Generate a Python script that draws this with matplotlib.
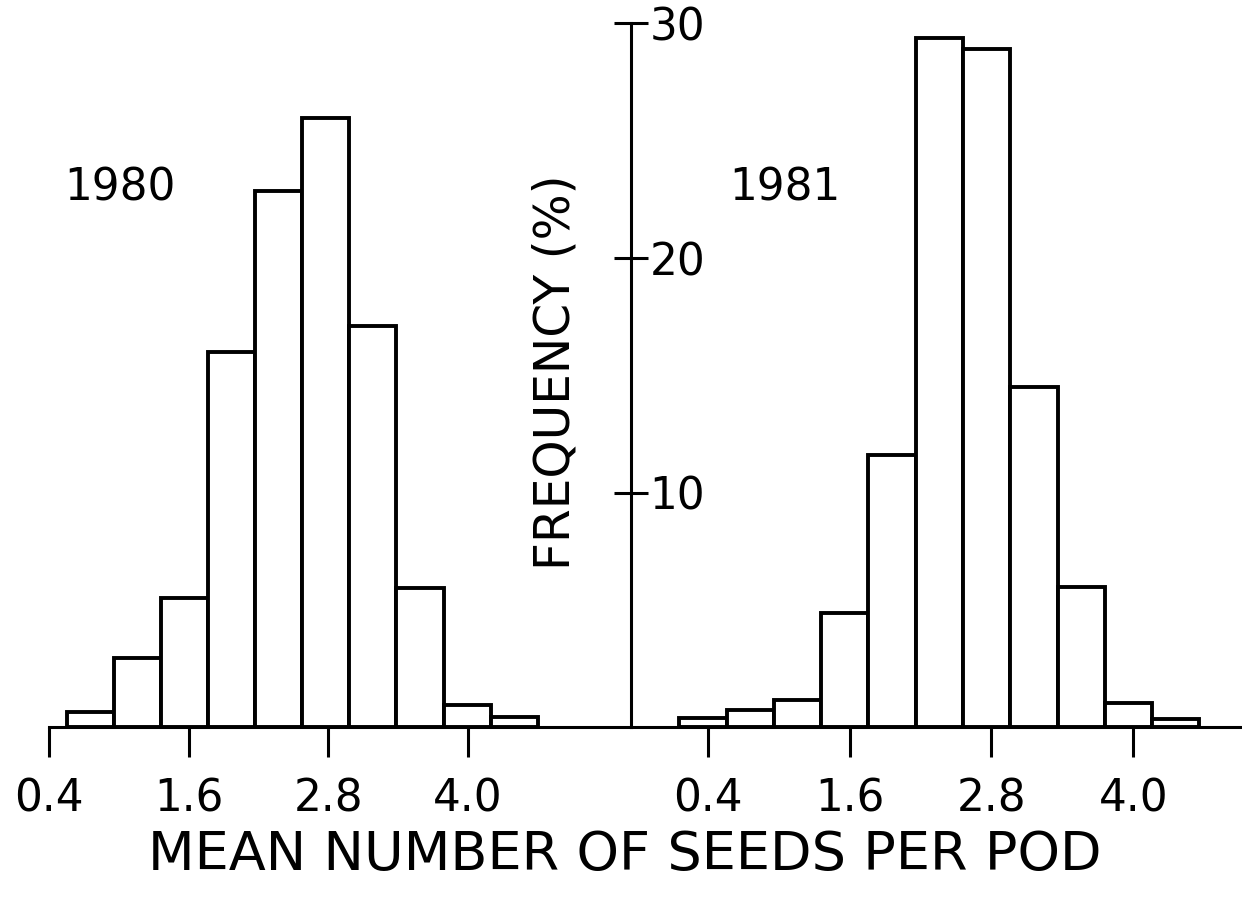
import matplotlib
matplotlib.use("Agg")
import matplotlib.pyplot as plt

# histogram data (frequency in %)
bin_width_1980 = 0.405
left_edges_1980 = [0.55, 0.955, 1.36, 1.765, 2.17, 2.575, 2.98, 3.385, 3.79, 4.195]
freq_1980 = [0.64, 2.94, 5.49, 16.0, 22.85, 25.96, 17.1, 5.94, 0.94, 0.44]

bin_width_1981 = 0.4
left_edges_1981 = [0.16, 0.56, 0.96, 1.36, 1.76, 2.16, 2.56, 2.96, 3.36, 3.76, 4.16]
freq_1981 = [0.40, 0.74, 1.14, 4.86, 11.6, 29.37, 28.9, 14.5, 5.97, 1.02, 0.32]

x_ticks = [0.4, 1.6, 2.8, 4.0]
x_tick_labels = ["0.4", "1.6", "2.8", "4.0"]
y_ticks = [10, 20, 30]
y_tick_labels = ["10", "20", "30"]

W, H = 1242, 905
fig = plt.figure(figsize=(W / 100, H / 100), dpi=100)
fig.patch.set_facecolor("white")


def px_box(x0, x1, y_top, y_bot):
    return [x0 / W, 1 - y_bot / H, (x1 - x0) / W, (y_bot - y_top) / H]


base_y = 727
top_y = 23.5
axis_x = 631

ax1 = fig.add_axes(px_box(49.3, axis_x, top_y, base_y))
ax2 = fig.add_axes(px_box(axis_x, W, top_y, base_y))

ax1.set_xlim(0.4, 0.4 + (axis_x - 49.3) / 116.3)
ax2.set_xlim(0.4 - (707.7 - axis_x) / 118.2, 4.0 + (W - 1133.3) / 118.2)
for ax in (ax1, ax2):
    ax.set_ylim(0, 30)
    ax.patch.set_alpha(0)

lw_bar = 2.8
lw_axis = 2.2
fs = 31.5

ax1.bar(left_edges_1980, freq_1980, width=bin_width_1980, align="edge",
        facecolor="white", edgecolor="black", linewidth=lw_bar, clip_on=False)
ax2.bar(left_edges_1981, freq_1981, width=bin_width_1981, align="edge",
        facecolor="white", edgecolor="black", linewidth=lw_bar, clip_on=False)

# spines
for s in ["top", "left"]:
    ax1.spines[s].set_visible(False)
ax1.spines["right"].set_linewidth(lw_axis)
ax1.spines["bottom"].set_linewidth(lw_axis)
for s in ["top", "left", "right"]:
    ax2.spines[s].set_visible(False)
ax2.spines["bottom"].set_linewidth(lw_axis)

# y axis sits in the middle, labels on its right
ax1.yaxis.tick_right()
ax1.set_yticks(y_ticks)
ax1.set_yticklabels(y_tick_labels)
ax1.tick_params(axis="y", direction="inout", length=25, width=lw_axis,
                pad=1, labelsize=fs)
ax2.set_yticks([])

for ax in (ax1, ax2):
    ax.set_xticks(x_ticks)
    ax.set_xticklabels(x_tick_labels)
    ax.tick_params(axis="x", direction="out", length=21.6, width=lw_axis,
                   pad=15, labelsize=fs)

ax1.text(1.01, 23.0, "1980", ha="center", va="center", fontsize=fs)
ax2.text(1.05, 23.0, "1981", ha="center", va="center", fontsize=fs)

fig.text(555 / W, 1 - 372 / H, "FREQUENCY (%)", rotation=90,
         ha="center", va="center", fontsize=35)
fig.text(625 / W, 1 - 855 / H, "MEAN NUMBER OF SEEDS PER POD",
         ha="center", va="center", fontsize=39)

fig.savefig("out.png", dpi=100, facecolor="white")
